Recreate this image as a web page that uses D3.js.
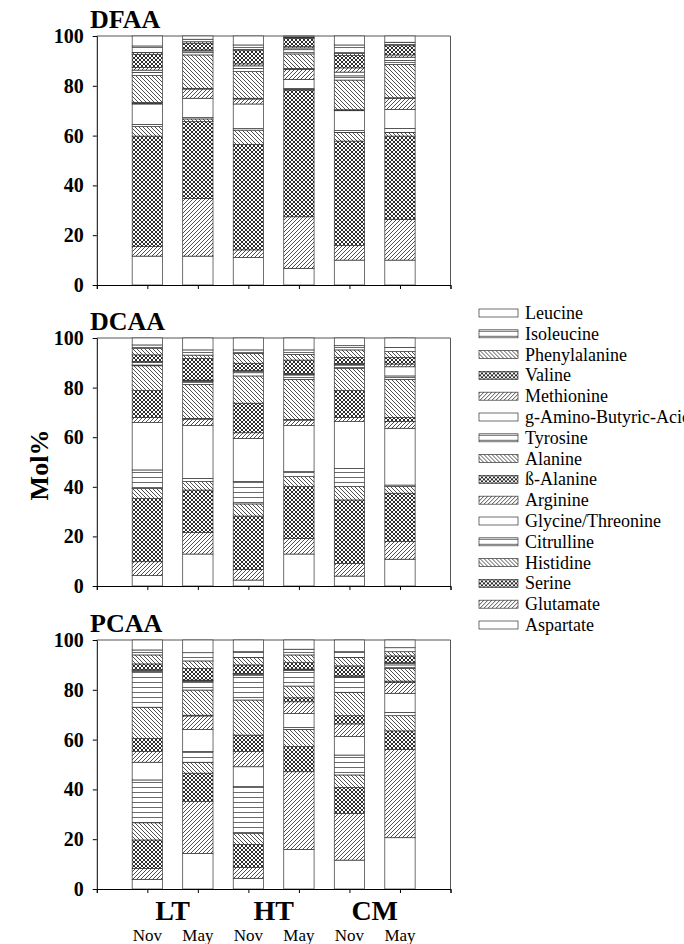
<!DOCTYPE html>
<html>
<head>
<meta charset="utf-8">
<script src="https://cdn.jsdelivr.net/npm/d3@7"></script>
<style>
  body { margin: 0; background: #fff; }
  svg { display: block; }
</style>
</head>
<body>
<svg id="chart" width="684" height="944"></svg>
<script>
// Amino acids, in stacking order (bottom of each bar first)
const aminoAcids = [
  "Aspartate", "Glutamate", "Serine", "Histidine", "Citrulline",
  "Glycine/Threonine", "Arginine", "ß-Alanine", "Alanine", "Tyrosine",
  "g-Amino-Butyric-Acid", "Methionine", "Valine", "Phenylalanine",
  "Isoleucine", "Leucine"
];

// Bars: site x month
const sites = ["LT", "HT", "CM"];
const months = ["Nov", "May", "Nov", "May", "Nov", "May"];
const yTicks = [0, 20, 40, 60, 80, 100];

// Mol% per bar, one row per bar, values in aminoAcids order
const dfaaValues = [
  [11.6, 3.8, 44.4, 3.8, 0.9, 8.2, 0.3, 0.3, 10.8, 1.3, 0.9, 1.0, 5.3, 0.7, 2.7, 4.0],
  [11.6, 23.2, 30.8, 1.1, 0.5, 7.8, 3.7, 0.3, 13.4, 0.9, 0.7, 0.4, 2.7, 0.6, 1.0, 1.3],
  [11.0, 3.1, 42.4, 5.7, 0.6, 9.9, 2.0, 0.3, 10.7, 1.3, 1.0, 0.8, 5.3, 0.5, 1.8, 3.6],
  [6.7, 20.7, 50.9, 0.3, 0.3, 3.7, 4.0, 0.4, 5.8, 1.7, 0.7, 0.5, 3.3, 0.3, 0.3, 0.4],
  [10.0, 5.8, 42.0, 3.5, 0.7, 8.0, 0.2, 0.2, 11.9, 1.7, 1.5, 1.7, 5.0, 0.8, 3.4, 3.6],
  [10.0, 16.4, 33.4, 1.5, 1.6, 7.6, 4.5, 0.2, 13.4, 1.6, 1.3, 0.9, 3.7, 0.5, 0.9, 2.5]
];
const dcaaValues = [
  [4.2, 5.6, 25.5, 4.1, 7.4, 19.1, 2.1, 10.8, 10.0, 0.3, 1.1, 0.3, 2.7, 2.7, 1.3, 2.8],
  [12.9, 8.7, 17.1, 3.4, 1.3, 21.3, 2.6, 0.3, 13.7, 1.1, 0.3, 0.3, 8.8, 1.3, 2.1, 4.8],
  [2.4, 4.3, 21.5, 4.9, 9.0, 17.4, 2.3, 11.9, 11.0, 1.3, 0.6, 0.3, 2.9, 4.0, 1.4, 4.8],
  [12.9, 6.3, 20.9, 4.0, 2.0, 18.6, 2.2, 0.3, 16.1, 1.8, 0.3, 0.3, 5.4, 2.3, 1.8, 4.8],
  [4.0, 5.1, 25.6, 5.4, 7.3, 18.9, 1.7, 10.8, 9.0, 1.3, 0.3, 0.3, 2.5, 3.0, 1.7, 3.1],
  [10.8, 7.1, 19.5, 2.7, 0.6, 22.9, 2.7, 1.7, 15.3, 1.4, 3.7, 1.1, 2.7, 2.3, 1.7, 3.8]
];
const pcaaValues = [
  [3.9, 4.4, 11.4, 6.9, 17.2, 7.1, 4.3, 5.3, 12.5, 14.3, 0.5, 0.3, 2.3, 3.6, 2.0, 4.0],
  [14.3, 20.8, 11.4, 4.4, 4.3, 8.9, 5.4, 0.3, 10.1, 3.4, 0.3, 0.3, 4.7, 3.0, 3.3, 5.1],
  [4.3, 4.3, 9.3, 4.5, 18.7, 8.0, 6.1, 6.6, 14.1, 10.0, 0.4, 0.3, 3.4, 3.0, 2.3, 4.7],
  [15.9, 31.2, 10.1, 6.9, 0.7, 5.7, 4.7, 1.6, 4.7, 6.2, 0.3, 0.3, 2.6, 3.1, 2.3, 3.7],
  [11.6, 18.8, 10.4, 5.0, 8.0, 7.4, 5.1, 3.3, 9.4, 6.0, 0.3, 0.3, 4.0, 3.4, 2.3, 4.7],
  [20.6, 35.5, 7.4, 6.1, 1.3, 7.7, 4.3, 0.6, 5.1, 1.4, 0.6, 0.3, 2.7, 1.7, 1.6, 3.1]
];

// Fill pattern for each amino acid (cycle of five, from the bottom)
const patternCycle = ["p-open", "p-fwd", "p-cross", "p-back", "p-horiz"];
const fillOf = (i) => `url(#${patternCycle[i % 5]})`;

const serif = "'Liberation Serif', 'Times New Roman', Times, serif";
const svg = d3.select("#chart");
svg.append("rect").attr("width", 684).attr("height", 944).attr("fill", "#fff");

// ---- hatch patterns ----
const defs = svg.append("defs");
function addPattern(id, w, h, d, stroke, sw) {
  const p = defs.append("pattern").attr("id", id)
    .attr("patternUnits", "userSpaceOnUse").attr("width", w).attr("height", h);
  p.append("rect").attr("width", w).attr("height", h).attr("fill", "#fff");
  if (d) p.append("path").attr("d", d).attr("stroke", stroke)
    .attr("stroke-width", sw).attr("fill", "none");
}
addPattern("p-open", 4, 4, null);
addPattern("p-back", 4, 4, "M0,0L4,4M-1,3L1,5M3,-1L5,1", "#222", 0.8);
addPattern("p-fwd", 4, 4, "M0,4L4,0M-1,1L1,-1M3,5L5,3", "#222", 0.8);
addPattern("p-cross", 4, 4,
  "M0,0L4,4M-1,3L1,5M3,-1L5,1M0,4L4,0M-1,1L1,-1M3,5L5,3", "#222", 0.95);
addPattern("p-horiz", 6, 5, "M0,2.5H6", "#444", 0.8);

// ---- panels ----
const x = d3.scaleLinear().domain([0, 7]).range([96.8, 450.5]);
const barHalf = 0.3;

const panels = [
  { title: "DFAA", top: 36, bottom: 285, values: dfaaValues },
  { title: "DCAA", top: 338, bottom: 586, values: dcaaValues },
  { title: "PCAA", top: 640, bottom: 889, values: pcaaValues }
];

const stack = d3.stack().keys(aminoAcids);

panels.forEach((pn) => {
  const y = d3.scaleLinear().domain([0, 100]).range([pn.bottom, pn.top]);
  const g = svg.append("g");

  const table = pn.values.map((row, i) => {
    const o = { pos: i + 1 };
    aminoAcids.forEach((a, j) => { o[a] = row[j]; });
    return o;
  });
  const series = stack(table);

  // frame (top and right)
  g.append("path")
    .attr("d", `M${x(0)},${y(100)}H${x(7)}V${y(0)}`)
    .attr("fill", "none").attr("stroke", "#555").attr("stroke-width", 1);

  // stacked bars
  series.forEach((s, k) => {
    g.append("g").selectAll("rect").data(s).join("rect")
      .attr("x", (d) => x(d.data.pos - barHalf))
      .attr("width", x(1 + barHalf) - x(1 - barHalf))
      .attr("y", (d) => y(d[1]))
      .attr("height", (d) => Math.max(0, y(d[0]) - y(d[1])))
      .attr("fill", fillOf(k))
      .attr("stroke", "#333").attr("stroke-width", 0.7);
  });

  // y axis
  const ya = g.append("g").attr("transform", `translate(${x(0)},0)`)
    .call(d3.axisLeft(y).tickValues(yTicks).tickSize(4).tickPadding(9));
  ya.select(".domain").attr("stroke", "#000");
  ya.selectAll(".tick line").attr("stroke", "#000");
  ya.selectAll("text").attr("font-family", serif).attr("font-weight", "bold")
    .attr("font-size", 20).attr("fill", "#000");

  // x axis
  const xa = g.append("g").attr("transform", `translate(0,${y(0)})`)
    .call(d3.axisBottom(x).tickValues(d3.range(0, 8)).tickSize(4).tickFormat(""));
  xa.select(".domain").attr("stroke", "#000");
  xa.selectAll(".tick line").attr("stroke", "#000");

  // panel title
  svg.append("text").attr("x", 90).attr("y", pn.top - 8)
    .attr("font-family", serif).attr("font-weight", "bold").attr("font-size", 26)
    .text(pn.title);
});

// month and site labels under the last panel
const lastBottom = panels[2].bottom;
svg.append("g").selectAll("text").data(sites).join("text")
  .attr("x", (d, i) => x(2 * i + 1.5))
  .attr("y", lastBottom + 31)
  .attr("text-anchor", "middle")
  .attr("font-family", serif).attr("font-weight", "bold").attr("font-size", 28)
  .text((d) => d);
svg.append("g").selectAll("text").data(months).join("text")
  .attr("x", (d, i) => x(i + 1))
  .attr("y", lastBottom + 52)
  .attr("text-anchor", "middle")
  .attr("font-family", serif).attr("font-size", 17)
  .text((d) => d);

// y axis title
svg.append("text")
  .attr("transform", "translate(48,465) rotate(-90)")
  .attr("text-anchor", "middle")
  .attr("font-family", serif).attr("font-weight", "bold").attr("font-size", 26)
  .text("Mol%");

// legend, top entry is the top of the stack
const legendOrder = aminoAcids.map((a, i) => ({ name: a, idx: i })).reverse();
const ly = d3.scalePoint().domain(legendOrder.map((d) => d.name)).range([313, 625]);
const leg = svg.append("g").selectAll("g").data(legendOrder).join("g")
  .attr("transform", (d) => `translate(0,${ly(d.name)})`);
leg.append("rect").attr("x", 479).attr("y", -4).attr("width", 39).attr("height", 8)
  .attr("fill", (d) => fillOf(d.idx)).attr("stroke", "#333").attr("stroke-width", 0.7);
leg.append("text").attr("x", 525).attr("y", 6)
  .attr("font-family", serif).attr("font-size", 18)
  .text((d) => d.name);
</script>
</body>
</html>
